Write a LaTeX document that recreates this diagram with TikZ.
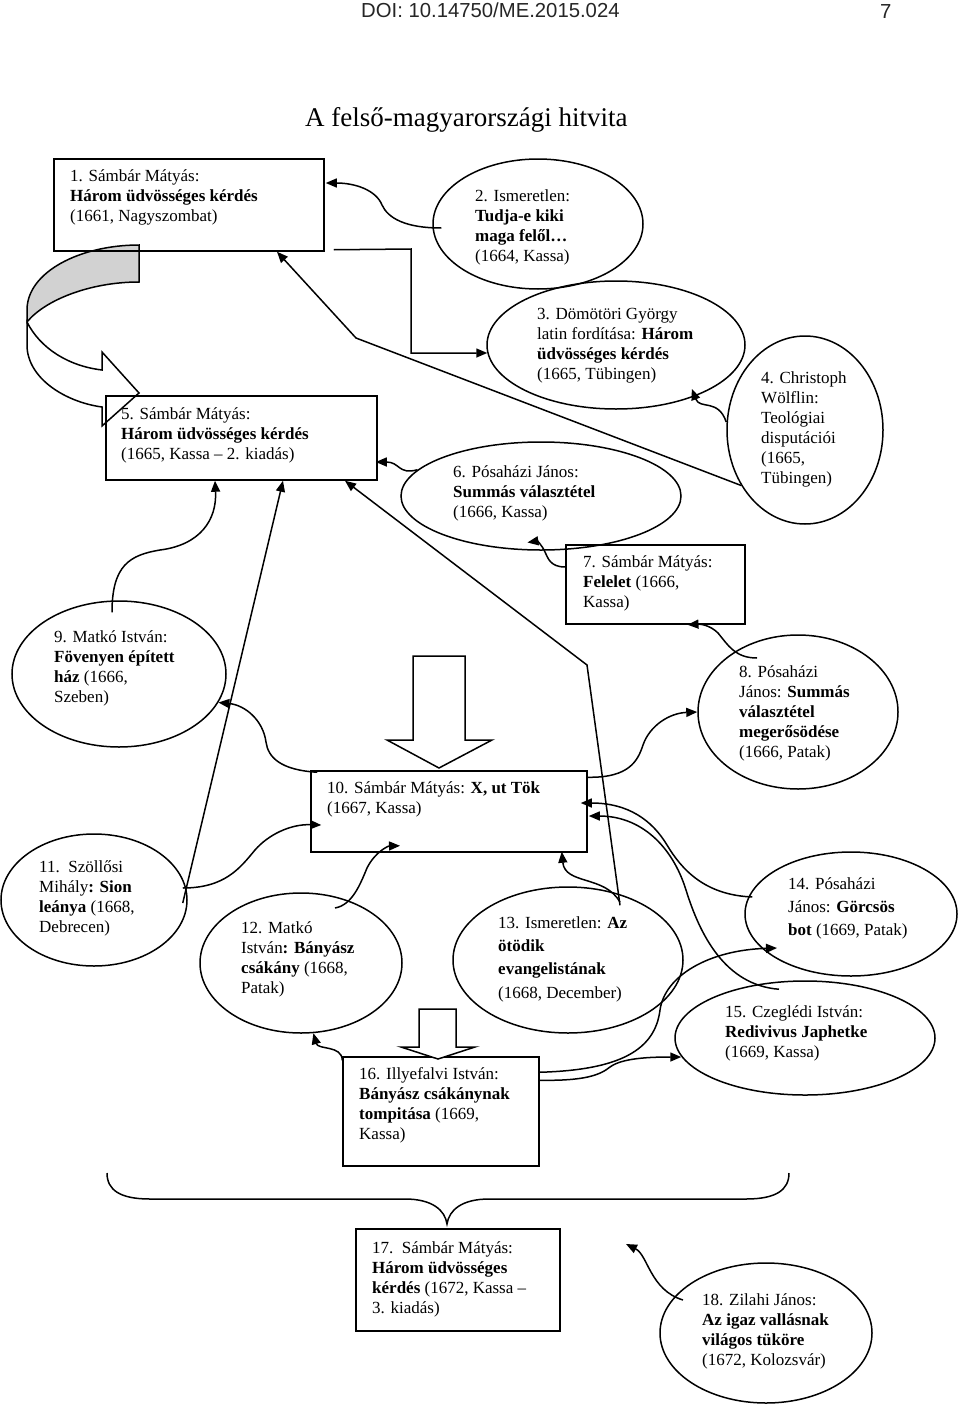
\documentclass[tikz,border=0pt]{standalone}
\usepackage{fontspec}
\setmainfont{Liberation Serif}
\newfontfamily\arialf{Liberation Sans}
\usetikzlibrary{arrows.meta,shapes.geometric}
\newcommand\fs{\fontsize{17}{20}\selectfont}
\newcommand\fsw{\fontsize{17}{23.3}\selectfont}
\newcommand\st{\rule{0pt}{14pt}}
\begin{document}
\begin{tikzpicture}[x=1pt,y=-1pt,
  box/.style={draw,line width=1.5pt,rectangle,inner sep=0pt},
  ell/.style={draw,line width=1.5pt,ellipse,inner sep=0pt},
  txt/.style={anchor=north west,inner sep=0pt,align=left,font=\fs},
  txtw/.style={anchor=north west,inner sep=0pt,align=left,font=\fsw},
  conn/.style={line width=1.5pt,-{Triangle[length=11pt,width=9pt]}},
  plain/.style={line width=1.5pt},
]
\useasboundingbox (0,0) rectangle (960,1405);
\fill[white] (0,0) rectangle (960,1405);

% header and title
\node[anchor=base west,inner sep=0pt,font=\arialf\fontsize{20.3}{24}\selectfont,text=black!85] (doi) at (361,18) {DOI: 10.14750/ME.2015.024};
\node[anchor=base west,inner sep=0pt,font=\arialf\fontsize{20.3}{24}\selectfont,text=black!85] (pg) at (880,19) {7};
\node[anchor=base west,inner sep=0pt,font=\fontsize{27}{32}\selectfont] (title) at (305,126) {A felső-magyarországi hitvita};

% curved block arrow (1 -> 5)
\coordinate (F) at (27,322);
\draw[plain,fill=gray!35] (139,245) .. controls (80,245) and (27,272) .. (27,310) -- (F)
   .. controls (45,300) and (90,282) .. (139,282) -- cycle;
\draw[plain,fill=white] (F) -- (27,345) .. controls (27,378) and (65,402) .. (102,407)
   -- (102,426) -- (139,393) -- (102,352) -- (102,370)
   .. controls (68,366) and (40,348) .. (F) -- cycle;

% shapes
\node[box,minimum width=270pt,minimum height=92pt] (n1) at (189,205) {};
\node[ell,minimum width=210pt,minimum height=130pt] (n2) at (538,224) {};
\node[ell,minimum width=258pt,minimum height=128pt] (n3) at (616,345) {};
\node[ell,minimum width=156pt,minimum height=188pt] (n4) at (805,430) {};
\node[box,minimum width=271pt,minimum height=84pt] (n5) at (241.5,438) {};
\node[ell,minimum width=280pt,minimum height=108pt] (n6) at (541,496) {};
\node[box,minimum width=179pt,minimum height=79pt] (n7) at (655.5,584.5) {};
\node[ell,minimum width=200pt,minimum height=154pt] (n8) at (798,712) {};
\node[ell,minimum width=214pt,minimum height=146pt] (n9) at (119,674) {};
\node[box,minimum width=276pt,minimum height=81pt] (n10) at (449,811.5) {};
\node[ell,minimum width=186pt,minimum height=132pt] (n11) at (94,900) {};
\node[ell,minimum width=202pt,minimum height=140pt] (n12) at (301,963) {};
\node[ell,minimum width=230pt,minimum height=146pt] (n13) at (568,960) {};
\node[ell,minimum width=212pt,minimum height=124pt] (n14) at (851,914) {};
\node[ell,minimum width=260pt,minimum height=114pt] (n15) at (805,1038) {};
\node[box,minimum width=196pt,minimum height=109pt] (n16) at (441,1111.5) {};
\node[box,minimum width=204pt,minimum height=102pt] (n17) at (458,1280) {};
\node[ell,minimum width=212pt,minimum height=140pt] (n18) at (766,1333) {};

% texts
\node[txt] (t1) at (70,167) {\st 1. Sámbár Mátyás:\\ \textbf{Három üdvösséges kérdés}\\ (1661, Nagyszombat)};
\node[txt] (t2) at (475,187) {\st 2. Ismeretlen:\\ \textbf{Tudja-e kiki}\\ \textbf{maga felől…}\\ (1664, Kassa)};
\node[txt] (t3) at (537,305) {\st 3. Dömötöri György\\ latin fordítása: \textbf{Három}\\ \textbf{üdvösséges kérdés}\\ (1665, Tübingen)};
\node[txt] (t4) at (761,369) {\st 4. Christoph\\ Wölflin:\\ Teológiai\\ disputációi\\ (1665,\\ Tübingen)};
\node[txt] (t5) at (121,405) {\st 5. Sámbár Mátyás:\\ \textbf{Három üdvösséges kérdés}\\ (1665, Kassa – 2. kiadás)};
\node[txt] (t6) at (453,463) {\st 6. Pósaházi János:\\ \textbf{Summás választétel}\\ (1666, Kassa)};
\node[txt] (t7) at (583,553) {\st 7. Sámbár Mátyás:\\ \textbf{Felelet} (1666,\\ Kassa)};
\node[txt] (t8) at (739,663) {\st 8. Pósaházi\\ János: \textbf{Summás}\\ \textbf{választétel}\\ \textbf{megerősödése}\\ (1666, Patak)};
\node[txt] (t9) at (54,628) {\st 9. Matkó István:\\ \textbf{Fövenyen épített}\\ \textbf{ház} (1666,\\ Szeben)};
\node[txt] (t10) at (327,779) {\st 10. Sámbár Mátyás: \textbf{X, ut Tök}\\ (1667, Kassa)};
\node[txt] (t11) at (39,858) {\st 11.\ \ Szöllősi\\ Mihály\textbf{: Sion}\\ \textbf{leánya} (1668,\\ Debrecen)};
\node[txt] (t12) at (241,919) {\st 12. Matkó\\ István\textbf{: Bányász}\\ \textbf{csákány} (1668,\\ Patak)};
\node[txtw] (t13) at (498,914) {\st 13. Ismeretlen: \textbf{Az}\\ \textbf{ötödik}\\ \textbf{evangelistának}\\ (1668, December)};
\node[txtw] (t14) at (788,875) {\st 14. Pósaházi\\ János: \textbf{Görcsös}\\ \textbf{bot} (1669, Patak)};
\node[txt] (t15) at (725,1003) {\st 15. Czeglédi István:\\ \textbf{Redivivus Japhetke}\\ (1669, Kassa)};
\node[txt] (t16) at (359,1065) {\st 16. Illyefalvi István:\\ \textbf{Bányász csákánynak}\\ \textbf{tompitása} (1669,\\ Kassa)};
\node[txt] (t17) at (372,1239) {\st 17.\ \ Sámbár Mátyás:\\ \textbf{Három üdvösséges}\\ \textbf{kérdés} (1672, Kassa –\\ 3. kiadás)};
\node[txt] (t18) at (702,1291) {\st 18. Zilahi János:\\ \textbf{Az igaz vallásnak}\\ \textbf{világos tüköre}\\ (1672, Kolozsvár)};

% block arrows
\draw[plain,fill=white] (413,656) -- (465,656) -- (465,740) -- (492,740) -- (439,768) -- (387,740) -- (413,740) -- cycle;
\draw[plain,fill=white] (419,1009) -- (456,1009) -- (456,1047) -- (475,1047) -- (438,1059) -- (401,1047) -- (419,1047) -- cycle;

% brace
\draw[plain] (107,1173) .. controls (107,1190) and (120,1199) .. (150,1199) -- (405,1199)
  .. controls (432,1199) and (445,1210) .. (447,1224)
  .. controls (449,1210) and (462,1199) .. (489,1199) -- (746,1199)
  .. controls (776,1199) and (789,1190) .. (789,1173);

% connectors
\draw[conn] ([shift={(9,4)}]n2.west) .. controls (405,228) and (388,218) .. (382,205) .. controls (376,190) and (355,183) .. ([shift={(1,-22)}]n1.east);
\draw[conn] ([shift={(9,-2)}]n1.south east) -- (411,249) -- (411,353) -- ([shift={(1,8)}]n3.west);
\draw[conn] (n4.221) -- (356,338) -- ([xshift=88pt]n1.south);
\draw[conn] (n6.168) .. controls (398,475) and (400,462) .. ([shift={(-2,24)}]n5.east);
\draw[conn] ([shift={(0,-17.5)}]n7.west) .. controls (550,567) and (548,558) .. (545,552) .. controls (542,545) and (537,541) .. ([yshift=8pt]n6.256);
\draw[conn] ([shift={(-7,12)}]n9.north) .. controls (112,565) and (130,555) .. (160,550) .. controls (200,545) and (217,520) .. ([xshift=-26.5pt]n5.south);
\draw[conn] ([shift={(-5,3)}]n11.east) -- ([xshift=41.5pt]n5.south);
\draw[conn] ([shift={(52,19)}]n13.north) -- (587,665) -- ([xshift=103.5pt]n5.south);
\draw[conn] ([yshift=8pt]n4.west) .. controls (718,398) and (700,410) .. ([shift={(-9,-5)}]n3.330);
\draw[conn] ([shift={(-41,-54)}]n8.center) .. controls (735,658) and (728,645) .. (718,633) .. controls (710,625) and (700,624) .. ([xshift=32pt]n7.south);
\draw[conn] ([shift={(0,7)}]n10.north east) .. controls (630,778) and (638,760) .. (643,745) .. controls (650,725) and (670,713) .. (n8.west);
\draw[conn] ([shift={(7,2)}]n10.north west) .. controls (280,770) and (268,757) .. (266,742) .. controls (263,720) and (245,705) .. (n9.344);
\draw[conn] ([shift={(-5,-12)}]n11.east) .. controls (225,888) and (240,868) .. (255,850) .. controls (268,835) and (290,824) .. ([shift={(11,13.5)}]n10.west);
\draw[conn] ([shift={(34,-55)}]n12.center) .. controls (352,905) and (360,885) .. (367,868) .. controls (375,852) and (388,846) .. ([shift={(-49,-7)}]n10.south);
\draw[conn] ([shift={(0,4)}]n16.north west) .. controls (342,1045) and (318,1050) .. (n12.280);
\draw[conn] ([shift={(52,16)}]n13.north) .. controls (605,875) and (565,885) .. ([shift={(-26,-1)}]n10.south east);
\draw[conn] ([shift={(8,-17)}]n14.west) .. controls (705,895) and (682,870) .. (667,845) .. controls (652,820) and (628,803) .. ([shift={(-7,-8.5)}]n10.east);
\draw[conn] ([shift={(-26,9)}]n15.north) .. controls (725,985) and (700,935) .. (686,890) .. controls (672,845) and (640,816) .. ([shift={(1,4.5)}]n10.east);
\draw[conn] ([shift={(0,16)}]n16.north east) .. controls (620,1070) and (655,1050) .. (660,1010) .. controls (665,975) and (710,950) .. ([shift={(-74,34)}]n14.center);
\draw[conn] ([shift={(0,24)}]n16.north east) .. controls (585,1081) and (600,1075) .. (610,1067) .. controls (622,1058) and (650,1057) .. ([shift={(7,19)}]n15.west);
\coordinate (free18) at (626,1244);
\draw[conn] ([shift={(-83,-33)}]n18.center) .. controls (650,1290) and (648,1255) .. (free18);
\end{tikzpicture}
\end{document}
